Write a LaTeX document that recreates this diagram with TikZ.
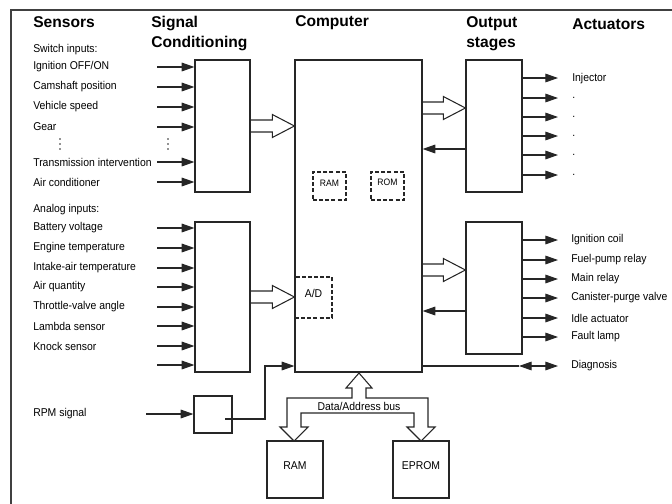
\documentclass[tikz,border=0pt]{standalone}
\usepackage{fontspec}
\setmainfont{Liberation Sans}
\newfontfamily\narrowfont[FakeStretch=0.92]{Liberation Sans}
\usetikzlibrary{arrows.meta,calc,fit}
\newcommand\hollowarrow[2]{\draw[hol] let \p1=(#1), \p2=(#2) in
  (\x1,\y2+4.5pt) -- (\x2-16.5pt,\y2+4.5pt) -- (\x2-16.5pt,\y2+8.6pt) -- (\x2,\y2)
  -- (\x2-16.5pt,\y2-8.6pt) -- (\x2-16.5pt,\y2-4.5pt) -- (\x1,\y2-4.5pt);}
\begin{document}
\begin{tikzpicture}[x=0.75pt,y=-0.75pt,
  box/.style={draw=black!85, line width=0.9pt, inner sep=0pt},
  dbox/.style={draw=black!85, line width=0.8pt, dash pattern=on 3pt off 1.6pt, inner sep=0pt},
  lbl/.style={anchor=west, inner sep=0pt, font=\narrowfont\fontsize{8.5}{10}\selectfont},
  ttl/.style={anchor=west, inner sep=0pt, font=\fontsize{11.7}{14}\selectfont\bfseries},
  sig/.style={line width=0.8pt, draw=black!85, -{Triangle[length=9.5pt,width=6.5pt]}},
  hol/.style={line width=0.8pt, draw=black!85, line join=miter}]
\useasboundingbox (0,0) rectangle (672,504);
\draw[line width=1pt, black!75] (11,504) -- (11,10) -- (672,10);

% titles
\node[ttl] (tSen) at (33,22) {Sensors};
\node[ttl] (tSig1) at (151,23) {Signal};
\node[ttl] (tSig2) at (151,43) {Conditioning};
\node[ttl] (tCom) at (295,23) {Computer};
\node[ttl] (tOut1) at (466,24) {Output};
\node[ttl] (tOut2) at (466,44) {stages};
\node[ttl] (tAct) at (572,24) {Actuators};

% boxes
\node[box, fit={(195,60) (250,192)}] (sc1) {};
\node[box, fit={(195,222) (250,372)}] (sc2) {};
\node[box, fit={(194,396) (232,433)}] (rpm) {};
\node[box, fit={(295,60) (422,372)}] (comp) {};
\node[box, fit={(466,60) (522,192)}] (out1) {};
\node[box, fit={(466,222) (522,354)}] (out2) {};
\node[box, fit={(267,441) (323,498)}, font=\narrowfont\fontsize{8.5}{10}\selectfont] (ram) {RAM};
\node[box, fit={(393,441) (449,498)}, font=\narrowfont\fontsize{8.5}{10}\selectfont] (eprom) {EPROM};
\node[dbox, fit={(313,172) (346,200)}, font=\narrowfont\fontsize{7}{8}\selectfont] (iram) {RAM};
\node[dbox, fit={(371,172) (404,200)}, font=\narrowfont\fontsize{7}{8}\selectfont] (irom) {ROM};
\node[dbox, fit={(295,277) (332,318)}, font=\narrowfont\fontsize{8.5}{9}\selectfont] (ad) {A/D};

% switch inputs
\node[lbl] (hSw) at (33,50) {Switch inputs:};
\foreach \t/\y/\n in {{Ignition OFF/ON}/67/1, {Camshaft position}/87/2, {Vehicle speed}/107/3,
  {Gear}/127/4, {Transmission intervention}/162/5, {Air conditioner}/182/6}{
  \node[lbl] (ls\n) at (33,\y) {\t};
  \coordinate (cs\n) at (157,\y);
  \draw[sig] (cs\n) -- (cs\n -| sc1.west);
}
\foreach \x in {60, 168}{
  \fill[black!85] (\x,139) circle (0.7pt) (\x,144) circle (0.7pt) (\x,149) circle (0.7pt);
}

% analog inputs
\node[lbl] (hAn) at (33,210) {Analog inputs:};
\foreach \t/\y/\n in {{Battery voltage}/228/1, {Engine temperature}/248/2,
  {Intake-air temperature}/268/3, {Air quantity}/287/4, {Throttle-valve angle}/307/5,
  {Lambda sensor}/326/6, {Knock sensor}/346/7}{
  \node[lbl] (la\n) at (33,\y) {\t};
  \coordinate (ca\n) at (157,\y);
  \draw[sig] (ca\n) -- (ca\n -| sc2.west);
}
\coordinate (ca8) at (157,365);
\draw[sig] (ca8) -- (ca8 -| sc2.west);

% RPM
\node[lbl] (lrpm) at (33,414) {RPM signal};
\coordinate (crpm) at (146,414);
\draw[sig] (crpm) -- (crpm -| rpm.west);
\coordinate (rpmo) at (225,419);
\coordinate (rpmc) at (265,419);
\coordinate (rpmi) at (265,366);
\draw[sig] (rpmo) -- (rpmc) -- (rpmi) -- (rpmi -| comp.west);

% hollow arrows
\hollowarrow{sc1.east}{sc1.east -| comp.west}
\hollowarrow{sc2.east}{sc2.east -| comp.west}
\hollowarrow{comp.east}{$(out1.west)+(0,-18)$}
\hollowarrow{comp.east}{$(out2.west)+(0,-18)$}

% return arrows
\coordinate (r1) at ($(out1.west)+(0,23)$);
\draw[sig] (r1) -- (r1 -| comp.east);
\coordinate (r2) at ($(out2.west)+(0,23)$);
\draw[sig] (r2) -- (r2 -| comp.east);

% outputs group 1
\foreach \y/\n in {78/1, 98/2, 117/3, 136/4, 155/5, 175/6}{
  \coordinate (co\n) at (558,\y);
  \draw[sig] (co\n -| out1.east) -- (co\n);
}
\node[lbl] (lInj) at (572,79) {Injector};
\foreach \y/\n in {98/2, 117/3, 136/4, 155/5, 175/6}{
  \node[lbl] (ld\n) at (572,\y) {.};
}

% outputs group 2
\foreach \t/\y/\n in {{Ignition coil}/240/1, {Fuel-pump relay}/260/2, {Main relay}/279/3,
  {Canister-purge valve}/298/4, {Idle actuator}/318/5, {Fault lamp}/337/6}{
  \coordinate (cq\n) at (558,\y);
  \draw[sig] (cq\n -| out2.east) -- (cq\n);
  \node[lbl] (lq\n) at (571,\y) {\t};
}

% diagnosis
\coordinate (dgR) at (558,366);
\coordinate (dgL) at (519,366);
\draw[line width=0.8pt, black!85] (dgR -| comp.east) -- (dgL);
\draw[line width=0.8pt, black!85, {Triangle[length=9.5pt,width=6.5pt]}-{Triangle[length=9.5pt,width=6.5pt]}] (dgL) -- (dgR);
\node[lbl] (lDiag) at (571,366) {Diagnosis};

% data/address bus
\draw[hol] (359,373) -- (372,388) -- (366,388) -- (366,398) -- (428,398) -- (428,427)
  -- (435,427) -- (421,441) -- (407,427) -- (414,427) -- (414,413) -- (301,413)
  -- (301,427) -- (308,427) -- (294,441) -- (280,427) -- (287,427) -- (287,398)
  -- (352,398) -- (352,388) -- (346,388) -- cycle;
\node[inner sep=0pt, font=\narrowfont\fontsize{8.5}{10}\selectfont] (lBus) at (359,406) {Data/Address bus};
\end{tikzpicture}
\end{document}
